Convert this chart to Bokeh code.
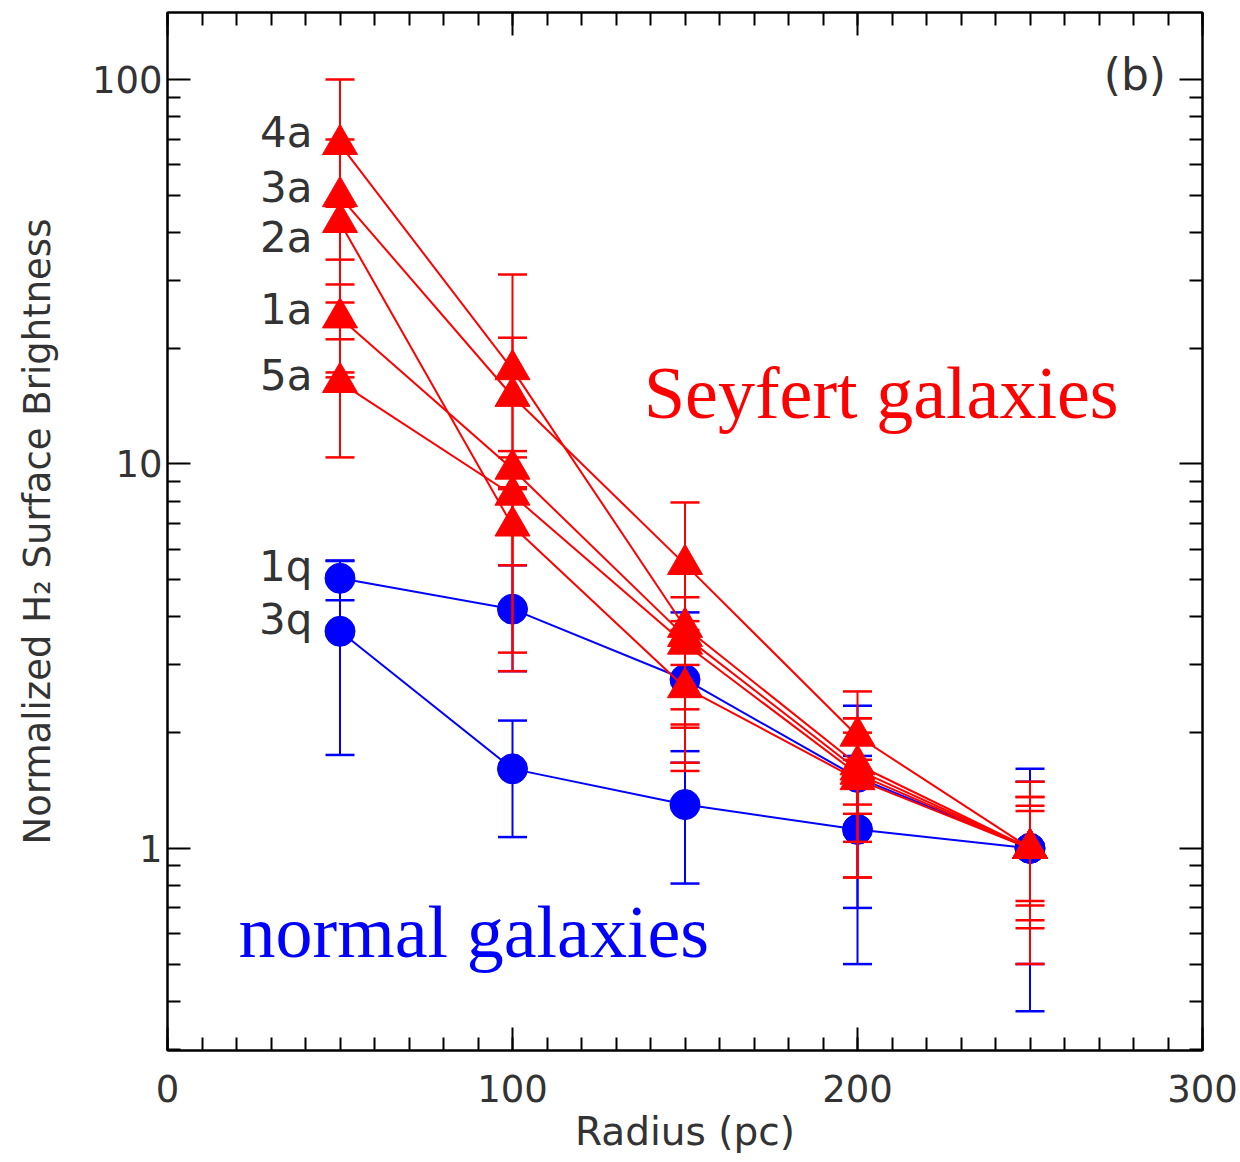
from bokeh.plotting import figure
from bokeh.models import (ColumnDataSource, FixedTicker, LinearAxis, LogAxis, Label,
                          NumeralTickFormatter, CustomJSTickFormatter, Range1d)
from bokeh.embed import file_html
from bokeh.resources import INLINE
from bokeh.core.properties import value

# ---------------- data ----------------
radius = [50, 100, 150, 200, 250]

sey_1a = [24.0, 9.7, 3.56, 1.60, 1.0]
sey_1a_lo = [21.1, 8.6, 1.67, 0.84, 0.71]
sey_1a_hi = [26.3, 10.8, 3.9, 2.18, 1.29]

sey_2a = [42.5, 6.9, 2.62, 1.51, 1.0]
sey_2a_lo = [17.3, 2.89, 2.3, 1.30, 0.65]
sey_2a_hi = [46.7, 8.0, 3.0, 1.70, 1.36]

sey_3a = [49.6, 15.0, 5.48, 1.96, 1.0]
sey_3a_lo = [29.3, 8.7, 2.10, 1.23, 0.62]
sey_3a_hi = [69.8, 21.3, 7.94, 2.56, 1.36]

sey_4a = [67.8, 17.6, 3.76, 1.65, 1.0]
sey_4a_lo = [34.0, 3.23, 2.06, 0.84, 0.50]
sey_4a_hi = [100.0, 31.1, 4.50, 2.18, 1.49]

sey_5a = [16.3, 8.3, 3.40, 1.56, 1.0]
sey_5a_lo = [10.4, 5.45, 1.59, 1.04, 0.73]
sey_5a_hi = [16.8, 10.4, 3.7, 2.0, 1.25]

norm_1q = [5.04, 4.19, 2.75, 1.53, 1.0]
norm_1q_lo = [4.42, 2.89, 1.67, 0.70, 0.377]
norm_1q_hi = [5.61, 5.45, 4.11, 2.35, 1.61]

norm_3q = [3.67, 1.61, 1.30, 1.12, 1.0]
norm_3q_lo = [1.75, 1.07, 0.81, 0.50, 0.50]
norm_3q_hi = [5.59, 2.15, 1.79, 1.74, 1.49]

series_names = ["4a", "3a", "2a", "1a", "5a", "1q", "3q"]
x_ticks = [0, 100, 200, 300]
y_ticks = [1, 10, 100]

# label anchors (annotation placement, not data)
name_anchor_x = 42
name_anchor_y = [72.8, 52.4, 38.8, 25.2, 17.0, 5.41, 3.94]

# ---------------- figure ----------------
p = figure(width=1240, height=1162, y_axis_type="log",
           x_range=Range1d(0, 300), y_range=Range1d(0.298, 149.4),
           output_backend="svg", toolbar_location=None,
           min_border_left=167, min_border_right=38,
           min_border_top=12, min_border_bottom=112)
p.background_fill_color = "white"
p.border_fill_color = "white"
p.outline_line_color = "black"
p.outline_line_width = 2
p.xgrid.visible = False
p.ygrid.visible = False

x_minor = list(range(0, 301, 10))
y_minor = [m * d for d in (0.1, 1, 10, 100) for m in range(2, 10)]

tick_font = "DejaVu Sans"
tick_color = "#333333"


def style_axis(ax, ticker, show_labels):
    ax.ticker = ticker
    ax.axis_line_color = "black"
    ax.axis_line_width = 2
    ax.major_tick_line_color = "black"
    ax.major_tick_line_width = 2
    ax.minor_tick_line_color = "black"
    ax.minor_tick_line_width = 2
    ax.major_tick_in = 23
    ax.major_tick_out = 0
    ax.minor_tick_in = 13
    ax.minor_tick_out = 0
    ax.major_label_text_font = tick_font
    ax.major_label_text_font_size = "37px"
    ax.major_label_text_color = tick_color
    if not show_labels:
        ax.formatter = CustomJSTickFormatter(code="return ''")


xticker = FixedTicker(ticks=x_ticks, minor_ticks=x_minor)
yticker = FixedTicker(ticks=y_ticks, minor_ticks=y_minor)

xa = p.xaxis[0]
style_axis(xa, xticker, True)
xa.major_label_standoff = 24
xa.axis_label = "Radius (pc)"
xa.axis_label_text_font = "DejaVu Sans"
xa.axis_label_text_font_size = "39px"
xa.axis_label_text_font_style = "normal"
xa.axis_label_text_color = tick_color
xa.axis_label_standoff = 4

ya = p.yaxis[0]
style_axis(ya, yticker, True)
ya.formatter = NumeralTickFormatter(format="0")
ya.major_label_standoff = 5
ya.axis_label = "Normalized H\u2082 Surface Brightness"
ya.axis_label_text_font = "DejaVu Sans"
ya.axis_label_text_font_size = "37px"
ya.axis_label_text_font_style = "normal"
ya.axis_label_text_color = tick_color
ya.axis_label_standoff = 30

top = LinearAxis()
style_axis(top, FixedTicker(ticks=x_ticks, minor_ticks=x_minor), False)
p.add_layout(top, "above")
right = LogAxis()
style_axis(right, FixedTicker(ticks=y_ticks, minor_ticks=y_minor), False)
p.add_layout(right, "right")

BLUE = "#0000ff"
RED = "#ff0000"


def draw(vals, lo, hi, color, marker, size):
    p.segment(x0=radius, y0=lo, x1=radius, y1=hi, line_color=color, line_width=2)
    p.scatter(radius + radius, lo + hi, marker="dash", size=29,
              line_color=color, line_width=2.5)
    p.line(radius, vals, line_color=color, line_width=2)
    p.scatter(radius, vals, marker=marker, size=size,
              fill_color=color, line_color=color)


draw(norm_3q, norm_3q_lo, norm_3q_hi, BLUE, "circle", 30)
draw(norm_1q, norm_1q_lo, norm_1q_hi, BLUE, "circle", 30)
draw(sey_5a, sey_5a_lo, sey_5a_hi, RED, "triangle", 35)
draw(sey_1a, sey_1a_lo, sey_1a_hi, RED, "triangle", 35)
draw(sey_2a, sey_2a_lo, sey_2a_hi, RED, "triangle", 35)
draw(sey_3a, sey_3a_lo, sey_3a_hi, RED, "triangle", 35)
draw(sey_4a, sey_4a_lo, sey_4a_hi, RED, "triangle", 35)

lab_src = ColumnDataSource(dict(x=[name_anchor_x] * len(series_names),
                                y=name_anchor_y, t=series_names))
p.text(x="x", y="y", text="t", source=lab_src, text_align="right",
       text_baseline="middle", text_font=value("DejaVu Sans"),
       text_font_size="42px", text_color="#333333")

p.add_layout(Label(x=280.4, y=103, text="(b)", text_align="center",
                   text_baseline="middle", text_font="DejaVu Sans",
                   text_font_size="44px", text_color="#333333"))
p.add_layout(Label(x=138.1, y=15.26, text="Seyfert galaxies", text_align="left",
                   text_baseline="alphabetic", text_font="Liberation Serif",
                   text_font_size="74px", text_color=RED))
p.add_layout(Label(x=20.6, y=0.605, text="normal galaxies", text_align="left",
                   text_baseline="alphabetic", text_font="Liberation Serif",
                   text_font_size="74px", text_color=BLUE))

open("out.html", "w").write(file_html(p, INLINE))
